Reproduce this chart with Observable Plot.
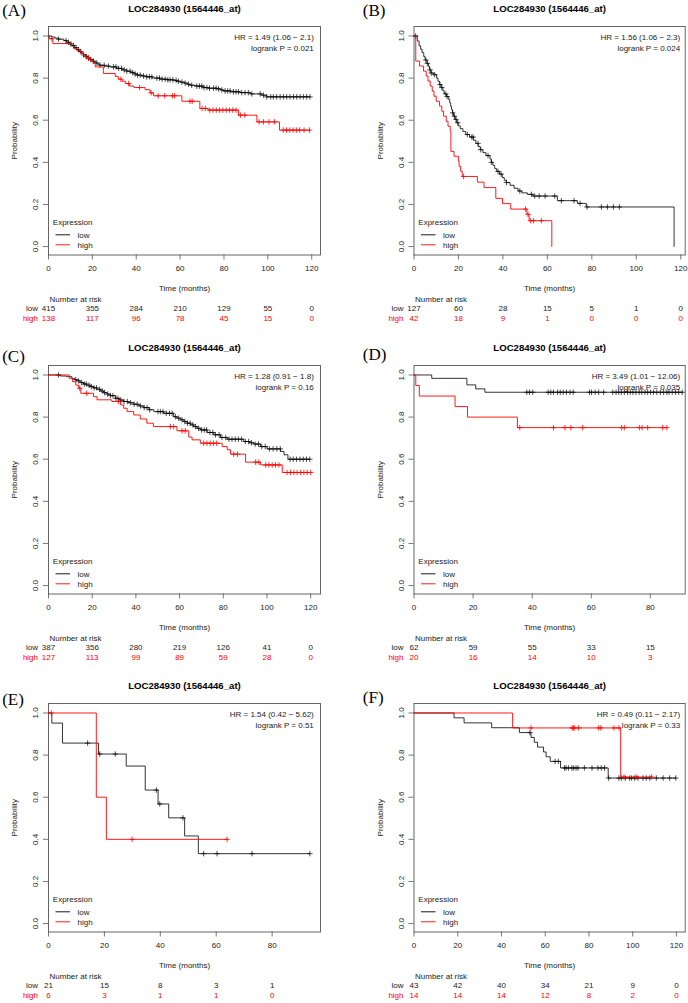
<!DOCTYPE html>
<html>
<head>
<meta charset="utf-8">
<script src="https://cdn.jsdelivr.net/npm/d3@7"></script>
<script src="https://cdn.jsdelivr.net/npm/@observablehq/plot@0.6"></script>
<style>
html,body{margin:0;padding:0;background:#fff;}
#wrap{position:relative;width:688px;height:1003px;overflow:hidden;background:#fff;}
#wrap svg{position:absolute;}
</style>
</head>
<body>
<div id="wrap"></div>
<script>
// ---------------- data ----------------
const ticks120 = [0, 20, 40, 60, 80, 100, 120];
const ticks80 = [0, 20, 40, 60, 80];
const yTicks = [0, 0.2, 0.4, 0.6, 0.8, 1.0];
const titleText = "LOC284930 (1564446_at)";
const panelLabels = ["(A)", "(B)", "(C)", "(D)", "(E)", "(F)"];
const hrTexts = ["HR = 1.49 (1.06 \u2212 2.1)", "HR = 1.56 (1.06 \u2212 2.3)", "HR = 1.28 (0.91 \u2212 1.8)",
                 "HR = 3.49 (1.01 \u2212 12.06)", "HR = 1.54 (0.42 \u2212 5.62)", "HR = 0.49 (0.11 \u2212 2.17)"];
const pTexts = ["logrank P = 0.021", "logrank P = 0.024", "logrank P = 0.16",
                "logrank P = 0.035", "logrank P = 0.51", "logrank P = 0.33"];
const xMax = [124, 122, 124.5, 91.8, 97.3, 124];

// Panel A
const A_low_t = [1.5, 3, 4.2, 7, 8.4, 9.5, 10.6, 11.8, 12.9, 14, 15, 16, 17.2, 18.2, 19, 20.2, 21.3, 22.5, 23.5, 25.5, 28, 31, 33.5, 35.7, 37.5, 39, 40.3, 42.5, 44.8, 47.5, 50.9, 54, 57, 58.5, 60, 62, 63.3, 64.6, 67, 70.6, 73, 76.7, 78.5, 79.8, 83, 87.3, 92, 97.2, 99.5];
const A_low_s = [0.995, 0.99, 0.985, 0.978, 0.97, 0.962, 0.955, 0.945, 0.935, 0.926, 0.918, 0.91, 0.902, 0.895, 0.888, 0.88, 0.872, 0.866, 0.861, 0.857, 0.853, 0.846, 0.839, 0.833, 0.826, 0.82, 0.814, 0.81, 0.806, 0.8, 0.795, 0.792, 0.789, 0.785, 0.781, 0.776, 0.771, 0.766, 0.762, 0.755, 0.752, 0.749, 0.744, 0.739, 0.735, 0.731, 0.725, 0.719, 0.711];
const A_low_c = [4.6, 8, 9.1, 10.2, 11.4, 12.6, 13.7, 14.7, 16, 17.2, 18.2, 19.3, 20.5, 22, 23.5, 25.4, 27.3, 29.6, 30.8, 32, 33.3, 34.5, 35.7, 37.2, 38.4, 39.5, 40.6, 41.8, 43.3, 44.8, 46, 47.1, 49.4, 50.6, 51.8, 53.2, 54.4, 55.4, 56.7, 58.2, 59.2, 60.8, 62.3, 63.8, 65.3, 67.6, 68.8, 69.9, 70.9, 72.2, 73.4, 75.2, 76.4, 77.5, 79, 80.5, 81.7, 82.8, 84.3, 85.5, 86.6, 88.1, 89.6, 91.1, 92.7, 96.5, 98, 99.5, 101.3, 102.5, 104, 105.6, 107.1, 108.6, 110.1, 111.7, 113.2, 114.7, 116.2, 117.7, 119.2];
const A_high_t = [0.5, 2, 10.5, 11.5, 13, 14.5, 16, 17.5, 19, 20.3, 21.3, 25, 30.4, 31.8, 33.5, 35, 37, 39, 44, 46.3, 47.8, 60.8, 69, 72.8, 86.6, 95, 105.3];
const A_high_s = [0.987, 0.964, 0.952, 0.94, 0.93, 0.92, 0.908, 0.895, 0.885, 0.87, 0.853, 0.822, 0.808, 0.795, 0.785, 0.774, 0.762, 0.755, 0.745, 0.73, 0.716, 0.69, 0.656, 0.648, 0.624, 0.592, 0.553];
const A_high_c = [1.5, 18.2, 33, 36.5, 41.5, 46.8, 50, 53, 56.5, 57.5, 64.5, 65.5, 70, 71.5, 73.5, 75, 76.5, 78, 79.5, 81, 82.5, 84, 85.5, 87.5, 89.5, 96, 98, 100.5, 103, 107, 108.5, 110, 111.5, 113, 114.5, 116.5, 119];
const A_risk_low = [415, 355, 284, 210, 129, 55, 0];
const A_risk_high = [138, 117, 96, 78, 45, 15, 0];

// Panel B
const B_low_t = [1.5, 2.3, 3.0, 3.6, 4.4, 5.0, 5.8, 6.5, 7.0, 7.6, 8.8, 10.2, 10.8, 11.5, 12.2, 13.0, 13.6, 14.6, 15.6, 16.1, 16.5, 16.9, 17.3, 17.8, 18.5, 19.2, 19.9, 20.8, 22.0, 23.3, 25.0, 26.8, 27.8, 28.9, 29.8, 31.0, 32.4, 34.2, 34.8, 35.5, 36.3, 37.2, 38.5, 39.7, 40.6, 41.5, 43.2, 45.0, 46.8, 48.5, 51.0, 53.5, 64.5, 73.5, 77.5, 117];
const B_low_s = [0.976, 0.953, 0.937, 0.921, 0.902, 0.886, 0.870, 0.855, 0.839, 0.824, 0.816, 0.800, 0.785, 0.769, 0.755, 0.740, 0.725, 0.712, 0.698, 0.682, 0.666, 0.650, 0.635, 0.619, 0.604, 0.588, 0.573, 0.560, 0.546, 0.532, 0.520, 0.505, 0.490, 0.475, 0.460, 0.446, 0.432, 0.416, 0.400, 0.386, 0.370, 0.357, 0.344, 0.328, 0.315, 0.304, 0.291, 0.277, 0.264, 0.255, 0.248, 0.240, 0.218, 0.205, 0.188, 0];
const B_low_c = [0.75, 5.3, 6.0, 7.2, 7.8, 9.3, 11.7, 12.5, 14.3, 14.9, 17.4, 18.2, 18.9, 19.7, 24.0, 26.0, 26.6, 28.8, 30.0, 33.3, 34.8, 37.8, 39.2, 41.6, 47.6, 52.8, 54.3, 56.3, 59.0, 63.3, 66.3, 72.0, 74.7, 77.8, 84.3, 87.0, 89.7, 92.4];
const B_high_t = [0.8, 2.5, 4.3, 5.5, 6.3, 7.3, 8.2, 9.0, 10.0, 11.5, 12.5, 13.3, 14.5, 15.3, 16.3, 16.6, 18.0, 20.0, 20.3, 21.0, 21.7, 28.5, 31.5, 36.8, 39.8, 43.5, 50.8, 51.8, 62.0];
const B_high_s = [0.881, 0.857, 0.833, 0.810, 0.786, 0.762, 0.738, 0.714, 0.690, 0.667, 0.643, 0.619, 0.595, 0.571, 0.548, 0.452, 0.429, 0.405, 0.381, 0.357, 0.333, 0.306, 0.280, 0.229, 0.204, 0.178, 0.153, 0.123, 0];
const B_high_c = [22.3, 50.2, 51.3, 52.5, 53.8, 57.3];
const B_risk_low = [127, 60, 28, 15, 5, 1, 0];
const B_risk_high = [42, 18, 9, 1, 0, 0, 0];

// Panel C
const C_low_t = [5.4, 8.4, 10.7, 12, 13, 14.5, 16, 17.5, 19.1, 20.5, 22.2, 23.7, 25.2, 26.8, 28.3, 30.6, 32.5, 34.4, 36.5, 39, 41.3, 43.6, 46, 48.2, 52.7, 57.3, 58.8, 60.4, 62, 63.4, 65, 66.5, 68, 69.6, 72.6, 75.7, 78.7, 81.8, 89.4, 92, 94, 97, 100.1, 106.2, 107.8, 109.6];
const C_low_s = [0.995, 0.992, 0.984, 0.978, 0.972, 0.964, 0.957, 0.951, 0.945, 0.939, 0.932, 0.924, 0.916, 0.909, 0.902, 0.889, 0.881, 0.874, 0.868, 0.861, 0.853, 0.845, 0.835, 0.826, 0.818, 0.802, 0.795, 0.787, 0.779, 0.771, 0.763, 0.755, 0.747, 0.739, 0.727, 0.716, 0.703, 0.695, 0.684, 0.678, 0.672, 0.66, 0.649, 0.637, 0.621, 0.6];
const C_low_c = [4.6, 12.5, 13.8, 15.2, 16.4, 17.3, 18.6, 19.6, 20.9, 22, 23.4, 24.6, 25.7, 27.1, 28.4, 29.5, 30.9, 31.8, 33.1, 34.6, 36.1, 37.6, 39.2, 40.6, 42.1, 43.8, 45.1, 46.3, 50.1, 51.2, 52.4, 53.9, 55.4, 56.6, 58.1, 59.6, 61.1, 62.4, 63.6, 64.8, 66.1, 67.3, 68.7, 70.1, 71.3, 72.4, 73.9, 75.2, 76.4, 78.1, 79.4, 81.1, 82.6, 84, 85.5, 86.9, 88.4, 90.1, 91.6, 92.9, 94.6, 96.1, 97.6, 99.2, 101.1, 102.8, 104.5, 106.1, 110.6, 112, 113.5, 115.1, 116.6, 118.1, 119.6];
const C_high_t = [9.5, 11, 12.5, 13.8, 14.8, 20.6, 22.2, 29, 33, 34.4, 36, 39, 42, 45, 48, 58.8, 64.2, 65.7, 69.5, 79.5, 81.8, 83.3, 90.2, 97, 107];
const C_high_s = [0.984, 0.968, 0.952, 0.937, 0.913, 0.897, 0.882, 0.874, 0.858, 0.842, 0.826, 0.81, 0.791, 0.771, 0.755, 0.735, 0.705, 0.692, 0.676, 0.66, 0.645, 0.624, 0.586, 0.573, 0.537];
const C_high_c = [14.3, 17.5, 32, 55.8, 57.3, 61.1, 62.6, 71, 72.5, 74, 75.5, 77, 84.8, 86.5, 94.8, 96.3, 99.4, 100.9, 102.4, 103.9, 105.5, 109.2, 110.8, 112.3, 113.8, 115.4, 116.9, 118.4, 120];
const C_risk_low = [387, 356, 280, 219, 126, 41, 0];
const C_risk_high = [127, 113, 99, 89, 59, 28, 0];

// Panel D
const D_low_t = [6, 17.9, 20.9, 24];
const D_low_s = [0.984, 0.953, 0.934, 0.918];
const D_low_c = [38.2, 39.1, 40.2, 45.4, 46.3, 47.2, 48.6, 49.5, 50.5, 51.6, 52.8, 53.9, 59.4, 60.1, 61.3, 62.5, 64.2, 67.3, 68.4, 69.3, 70.2, 71.2, 72.3, 73.2, 74.1, 75.1, 76.2, 77.1, 78.2, 79.1, 80.1, 81.1, 82.2, 83.4, 84.5, 85.6, 86.3, 87.4, 88.5, 89.6, 90.8];
const D_high_t = [0.6, 1.8, 13.9, 18.1, 35];
const D_high_s = [0.95, 0.9, 0.85, 0.8, 0.75];
const D_high_c = [35.8, 47.2, 51.1, 53.1, 57.1, 70.3, 71.2, 76.3, 77.2, 79.1, 84.2, 85.6];
const D_risk_low = [62, 59, 55, 33, 15];
const D_risk_high = [20, 16, 14, 10, 3];

// Panel E
const E_low_t = [1.2, 5, 17.9, 27.8, 34.6, 39.2, 43, 48.7, 53.6];
const E_low_s = [0.952, 0.857, 0.805, 0.748, 0.634, 0.568, 0.502, 0.416, 0.332];
const E_low_c = [14, 18.3, 23.9, 38.6, 39.8, 48.1, 55.5, 60.3, 72.8, 93.5];
const E_high_t = [17.1, 20.7];
const E_high_s = [0.6, 0.4];
const E_high_c = [1, 29.9, 63.9];
const E_risk_low = [21, 15, 8, 3, 1];
const E_risk_high = [6, 3, 1, 1, 0];

// Panel F
const F_low_t = [18.3, 22.9, 35.5, 48.2, 53.5, 55, 56.5, 59.2, 60.4, 62.3, 67, 88.8];
const F_low_s = [0.977, 0.953, 0.930, 0.907, 0.884, 0.861, 0.838, 0.815, 0.792, 0.770, 0.739, 0.691];
const F_low_c = [53, 64.5, 66, 68.8, 69.5, 70.6, 72.2, 73, 74.1, 75, 77.9, 81.4, 84.1, 85.6, 87.1, 89, 93.7, 94.8, 96.6, 98.6, 99.5, 100.9, 102.4, 104.7, 106.2, 107.8, 110.8, 113.9, 116.9, 119.7];
const F_high_t = [45.1, 94.5];
const F_high_s = [0.929, 0.696];
const F_high_c = [53.5, 72.3, 72.8, 73.3, 75.3, 84.5, 85.4, 91.4, 93.7, 96, 101.5, 108.7];
const F_risk_low = [43, 42, 40, 34, 21, 9, 0];
const F_risk_high = [14, 14, 14, 12, 8, 2, 0];

// ---------------- layout ----------------
const rowTops = [0, 339, 676.7];
const labelX = [1.7, 18.3];
const labelBase = [15, 15, 361.7, 359.3, 704, 702.3];
const FONT = "'Liberation Sans', Arial, Helvetica, sans-serif";
const SERIF = "'Liberation Serif', 'Times New Roman', serif";
const RED = "#ff0000", BLK = "#000000", AXIS = "#555555", TXT = "#222222";

const panels = [
  {lowT: A_low_t, lowS: A_low_s, lowC: A_low_c, highT: A_high_t, highS: A_high_s, highC: A_high_c, riskLow: A_risk_low, riskHigh: A_risk_high, ticks: ticks120},
  {lowT: B_low_t, lowS: B_low_s, lowC: B_low_c, highT: B_high_t, highS: B_high_s, highC: B_high_c, riskLow: B_risk_low, riskHigh: B_risk_high, ticks: ticks120},
  {lowT: C_low_t, lowS: C_low_s, lowC: C_low_c, highT: C_high_t, highS: C_high_s, highC: C_high_c, riskLow: C_risk_low, riskHigh: C_risk_high, ticks: ticks120},
  {lowT: D_low_t, lowS: D_low_s, lowC: D_low_c, highT: D_high_t, highS: D_high_s, highC: D_high_c, riskLow: D_risk_low, riskHigh: D_risk_high, ticks: ticks80},
  {lowT: E_low_t, lowS: E_low_s, lowC: E_low_c, highT: E_high_t, highS: E_high_s, highC: E_high_c, riskLow: E_risk_low, riskHigh: E_risk_high, ticks: ticks80},
  {lowT: F_low_t, lowS: F_low_s, lowC: F_low_c, highT: F_high_t, highS: F_high_s, highC: F_high_c, riskLow: F_risk_low, riskHigh: F_risk_high, ticks: ticks120}
];

function stepCurve(T, S, C) {
  const end = Math.max(T[T.length - 1], C.length ? d3.max(C) : 0);
  const pts = [{t: 0, s: 1}].concat(T.map((t, i) => ({t, s: S[i]})));
  pts.push({t: end, s: S[S.length - 1]});
  const at = (c) => { let v = 1; for (let i = 0; i < T.length; i++) if (T[i] <= c) v = S[i]; return v; };
  return {pts, cens: C.map((c) => ({t: c, s: at(c)}))};
}

function makePanel(p, k) {
  const col = k % 2, row = Math.floor(k / 2);
  const ml = col ? 69.5 : 48, mr = col ? 3.3 : 24;
  const mt = 26, fh = 228.5, mb = 70, W = 344, H = mt + fh + mb;
  const top = rowTops[row];
  const hrdx = col ? -5 : -6.7;
  const lo = stepCurve(p.lowT, p.lowS, p.lowC);
  const hi = stepCurve(p.highT, p.highS, p.highC);
  const legendLines = () => {
    const g = d3.create("svg:g");
    const yb = mt + fh;
    g.append("line").attr("x1", ml + 7.5).attr("x2", ml + 22).attr("y1", yb - 19.7).attr("y2", yb - 19.7)
      .attr("stroke", BLK).attr("stroke-width", 0.9);
    g.append("line").attr("x1", ml + 7.5).attr("x2", ml + 22).attr("y1", yb - 9.7).attr("y2", yb - 9.7)
      .attr("stroke", RED).attr("stroke-width", 0.9);
    return g.node();
  };
  const svg = Plot.plot({
    width: W, height: H,
    marginTop: mt, marginRight: mr, marginBottom: mb, marginLeft: ml,
    style: {fontFamily: FONT, fontSize: "8px", color: TXT, background: "none"},
    x: {domain: [0, xMax[k]]},
    y: {domain: [-0.04, 1.045]},
    marks: [
      Plot.axisX(p.ticks, {tickSize: 5, tickFormat: () => "", label: null, stroke: AXIS, strokeWidth: 0.8}),
      Plot.axisY(yTicks, {tickSize: 5, tickFormat: () => "", label: null, stroke: AXIS, strokeWidth: 0.8}),
      Plot.frame({stroke: AXIS, strokeWidth: 0.9}),
      Plot.text(p.ticks, {x: (d) => d, text: (d) => String(d), frameAnchor: "bottom", dy: 13.3, lineAnchor: "middle"}),
      Plot.text(yTicks, {y: (d) => d, text: (d) => d.toFixed(1), frameAnchor: "left", dx: -13, rotate: -90, textAnchor: "middle", lineAnchor: "middle"}),
      Plot.text(["Probability"], {frameAnchor: "left", dx: -34, rotate: -90, textAnchor: "middle", lineAnchor: "middle"}),
      Plot.text(["Time (months)"], {frameAnchor: "bottom", dy: 33.3, lineAnchor: "middle"}),
      Plot.text([titleText], {frameAnchor: "top", dy: -18, lineAnchor: "middle", fontWeight: "bold", fontSize: 9.6, fill: "#000"}),
      Plot.text([panelLabels[k]], {frameAnchor: "top-left", dx: labelX[col] - ml, dy: labelBase[k] - top - mt, textAnchor: "start", lineAnchor: "bottom", fontFamily: SERIF, fontSize: 17, fill: "#000"}),
      Plot.text([hrTexts[k]], {frameAnchor: "top-right", dx: hrdx, dy: 11.3, textAnchor: "end", lineAnchor: "middle"}),
      Plot.text([pTexts[k]], {frameAnchor: "top-right", dx: hrdx, dy: 21.7, textAnchor: "end", lineAnchor: "middle"}),
      Plot.text(["Expression"], {frameAnchor: "bottom-left", dx: 4.3, dy: -32.3, textAnchor: "start", lineAnchor: "middle"}),
      Plot.text(["low"], {frameAnchor: "bottom-left", dx: 29, dy: -19.7, textAnchor: "start", lineAnchor: "middle"}),
      Plot.text(["high"], {frameAnchor: "bottom-left", dx: 29, dy: -9.7, textAnchor: "start", lineAnchor: "middle"}),
      legendLines,
      Plot.line(lo.pts, {x: "t", y: "s", curve: "step-after", stroke: BLK, strokeWidth: 0.8}),
      Plot.dot(lo.cens, {x: "t", y: "s", symbol: "plus", r: 1.9, stroke: BLK, fill: "none", strokeWidth: 0.7}),
      Plot.line(hi.pts, {x: "t", y: "s", curve: "step-after", stroke: RED, strokeWidth: 0.9}),
      Plot.dot(hi.cens, {x: "t", y: "s", symbol: "plus", r: 1.9, stroke: RED, fill: "none", strokeWidth: 0.8}),
      Plot.text(["Number at risk"], {frameAnchor: "bottom-left", dx: 1, dy: 44, textAnchor: "start", lineAnchor: "middle"}),
      Plot.text(["low"], {frameAnchor: "bottom-left", dx: -10.5, dy: 53.3, textAnchor: "end", lineAnchor: "middle"}),
      Plot.text(["high"], {frameAnchor: "bottom-left", dx: -10.5, dy: 63.3, textAnchor: "end", lineAnchor: "middle", fill: RED}),
      Plot.text(p.riskLow, {x: (d, i) => p.ticks[i], text: (d) => String(d), frameAnchor: "bottom", dy: 53.3, lineAnchor: "middle"}),
      Plot.text(p.riskHigh, {x: (d, i) => p.ticks[i], text: (d) => String(d), frameAnchor: "bottom", dy: 63.3, lineAnchor: "middle", fill: RED})
    ]
  });
  svg.style.left = (col * 344) + "px";
  svg.style.top = top + "px";
  return svg;
}

const wrap = document.getElementById("wrap");
panels.forEach((p, k) => wrap.appendChild(makePanel(p, k)));
</script>
</body>
</html>
